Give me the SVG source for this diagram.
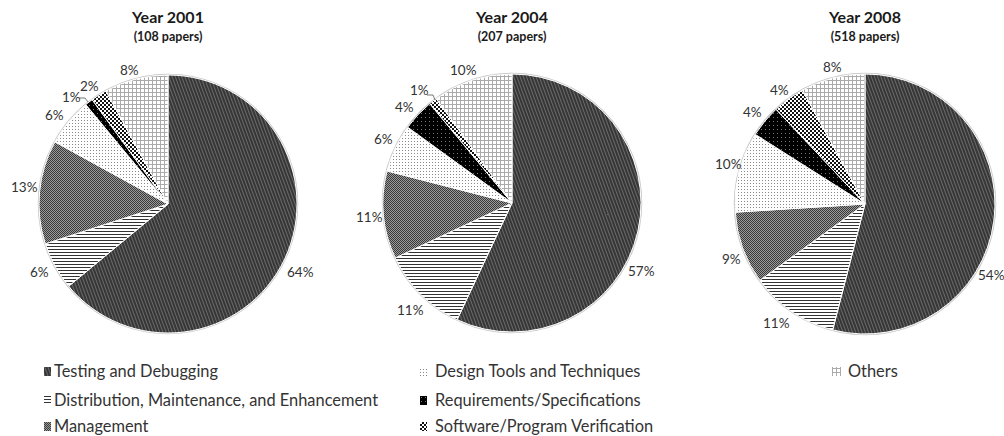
<svg xmlns="http://www.w3.org/2000/svg" width="1004" height="436" viewBox="0 0 1004 436">
<style>
.t{font-family:Lato,"Open Sans","Liberation Sans",sans-serif;font-weight:bold;fill:#1a1a1a;text-anchor:middle}
.title{font-size:16px}
.sub{font-size:12.5px}
.lbl{font-family:Lato,"Open Sans","Liberation Sans",sans-serif;font-size:13.5px;fill:#333}
.leg{font-family:Lato,"Open Sans","Liberation Sans",sans-serif;font-size:16.4px;fill:#333}
.s{stroke:#fff;stroke-width:1}
.rim{fill:none;stroke:#c8c8c8;stroke-width:1.5}
.lead{fill:none;stroke:#555;stroke-width:0.8}
</style>
<defs>
<pattern id="pTest" patternUnits="userSpaceOnUse" width="3" height="3" patternTransform="rotate(-20)">
<rect width="3" height="3" fill="#363636"/><rect width="1" height="3" fill="#6a6a6a"/>
</pattern>
<pattern id="pDist" patternUnits="userSpaceOnUse" width="3" height="3">
<rect width="3" height="3" fill="#fff"/><rect width="3" height="1" fill="#333"/>
</pattern>
<pattern id="pMgmt" patternUnits="userSpaceOnUse" width="2" height="2">
<rect width="2" height="2" fill="#9a9a9a"/><rect width="1" height="1" fill="#3a3a3a"/><rect x="1" y="1" width="1" height="1" fill="#3a3a3a"/>
</pattern>
<pattern id="pDes" patternUnits="userSpaceOnUse" width="3" height="3">
<rect width="3" height="3" fill="#fff"/><rect width="1" height="1" fill="#888"/>
</pattern>
<pattern id="pReq" patternUnits="userSpaceOnUse" width="4" height="4">
<rect width="4" height="4" fill="#000"/><rect x="1" y="1" width="1" height="1" fill="#777"/>
</pattern>
<pattern id="pVer" patternUnits="userSpaceOnUse" width="4" height="4">
<rect width="4" height="4" fill="#fff"/><rect width="2" height="2" fill="#111"/><rect x="2" y="2" width="2" height="2" fill="#111"/>
</pattern>
<pattern id="pOth" patternUnits="userSpaceOnUse" width="4" height="4">
<rect width="4" height="4" fill="#fff"/><rect width="4" height="1" fill="#aaa"/><rect width="1" height="4" fill="#aaa"/>
</pattern>
</defs>
<rect width="1004" height="436" fill="#fff"/>

<g id="pie2001">
<text class="t title" x="168" y="23">Year 2001</text>
<text class="t sub" x="168" y="41">(108 papers)</text>
<circle class="rim" cx="168" cy="204" r="129.5"/>
<path class="s" fill="url(#pTest)" d="M168,204 L168,75 A129,129 0 1 1 68.61,286.22 Z"/>
<path class="s" fill="url(#pDist)" d="M168,204 L68.61,286.22 A129,129 0 0 1 45.31,243.86 Z"/>
<path class="s" fill="url(#pMgmt)" d="M168,204 L45.31,243.86 A129,129 0 0 1 54.96,141.85 Z"/>
<path class="s" fill="url(#pDes)" d="M168,204 L54.96,141.85 A129,129 0 0 1 85.78,104.61 Z"/>
<path class="s" fill="url(#pReq)" d="M168,204 L85.78,104.61 A129,129 0 0 1 92.17,99.64 Z"/>
<path class="s" fill="url(#pVer)" d="M168,204 L92.17,99.64 A129,129 0 0 1 105.85,90.96 Z"/>
<path class="s" fill="url(#pOth)" d="M168,204 L105.85,90.96 A129,129 0 0 1 168,75 Z"/>
<text class="lbl" x="287" y="277">64%</text>
<text class="lbl" x="30" y="277">6%</text>
<text class="lbl" x="11" y="192">13%</text>
<text class="lbl" x="45" y="120">6%</text>
<text class="lbl" x="62" y="102">1%</text>
<polyline class="lead" points="79,98 85,98 88,102"/>
<text class="lbl" x="80" y="91">2%</text>
<text class="lbl" x="120" y="75">8%</text>
</g>

<g id="pie2004">
<text class="t title" x="512" y="23">Year 2004</text>
<text class="t sub" x="512" y="41">(207 papers)</text>
<circle class="rim" cx="512" cy="203" r="129.5"/>
<path class="s" fill="url(#pTest)" d="M512,203 L512,74 A129,129 0 1 1 457.07,319.72 Z"/>
<path class="s" fill="url(#pDist)" d="M512,203 L457.07,319.72 A129,129 0 0 1 395.28,257.93 Z"/>
<path class="s" fill="url(#pMgmt)" d="M512,203 L395.28,257.93 A129,129 0 0 1 387.05,170.92 Z"/>
<path class="s" fill="url(#pDes)" d="M512,203 L387.05,170.92 A129,129 0 0 1 407.64,127.17 Z"/>
<path class="s" fill="url(#pReq)" d="M512,203 L407.64,127.17 A129,129 0 0 1 429.78,103.61 Z"/>
<path class="s" fill="url(#pVer)" d="M512,203 L429.78,103.61 A129,129 0 0 1 436.17,98.64 Z"/>
<path class="s" fill="url(#pOth)" d="M512,203 L436.17,98.64 A129,129 0 0 1 512,74 Z"/>
<text class="lbl" x="628" y="276">57%</text>
<text class="lbl" x="397" y="315">11%</text>
<text class="lbl" x="356" y="222">11%</text>
<text class="lbl" x="374" y="144">6%</text>
<text class="lbl" x="395" y="112">4%</text>
<text class="lbl" x="410" y="95">1%</text>
<polyline class="lead" points="427,95 433,95 435,100"/>
<text class="lbl" x="450" y="75">10%</text>
</g>

<g id="pie2008">
<text class="t title" x="865" y="23">Year 2008</text>
<text class="t sub" x="865" y="41">(518 papers)</text>
<circle class="rim" cx="865" cy="204" r="130.5"/>
<path class="s" fill="url(#pTest)" d="M865,204 L865,74 A130,130 0 1 1 832.67,329.92 Z"/>
<path class="s" fill="url(#pDist)" d="M865,204 L832.67,329.92 A130,130 0 0 1 759.83,280.41 Z"/>
<path class="s" fill="url(#pMgmt)" d="M865,204 L759.83,280.41 A130,130 0 0 1 735.26,212.16 Z"/>
<path class="s" fill="url(#pDes)" d="M865,204 L735.26,212.16 A130,130 0 0 1 755.24,134.35 Z"/>
<path class="s" fill="url(#pReq)" d="M865,204 L755.24,134.35 A130,130 0 0 1 776.01,109.23 Z"/>
<path class="s" fill="url(#pVer)" d="M865,204 L776.01,109.23 A130,130 0 0 1 802.37,90.08 Z"/>
<path class="s" fill="url(#pOth)" d="M865,204 L802.37,90.08 A130,130 0 0 1 865,74 Z"/>
<text class="lbl" x="978" y="280">54%</text>
<text class="lbl" x="763" y="328">11%</text>
<text class="lbl" x="722" y="264">9%</text>
<text class="lbl" x="715" y="169">10%</text>
<text class="lbl" x="743" y="117">4%</text>
<text class="lbl" x="770" y="95">4%</text>
<text class="lbl" x="823" y="72">8%</text>
</g>

<g id="legend">
<rect x="44" y="367" width="7" height="9" fill="url(#pTest)"/>
<text class="leg" x="54" y="377">Testing and Debugging</text>
<rect x="44" y="396" width="7" height="9" fill="url(#pDist)"/>
<text class="leg" x="54" y="406">Distribution, Maintenance, and Enhancement</text>
<rect x="44" y="422" width="7" height="9" fill="url(#pMgmt)"/>
<text class="leg" x="54" y="432">Management</text>
<rect x="420" y="367" width="7" height="9" fill="url(#pDes)"/>
<text class="leg" x="435" y="377">Design Tools and Techniques</text>
<rect x="420" y="396" width="7" height="9" fill="url(#pReq)"/>
<text class="leg" x="435" y="406">Requirements/Specifications</text>
<rect x="420" y="422" width="7" height="9" fill="url(#pVer)"/>
<text class="leg" x="435" y="432">Software/Program Verification</text>
<rect x="832" y="367" width="9" height="9" fill="url(#pOth)"/>
<text class="leg" x="848" y="377">Others</text>
</g>
</svg>
